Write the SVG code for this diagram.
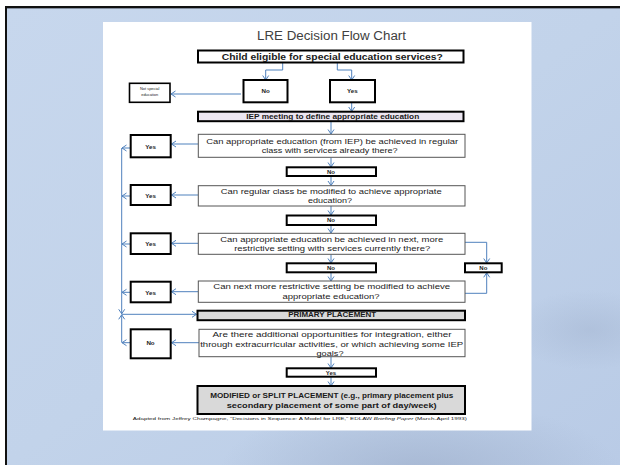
<svg xmlns="http://www.w3.org/2000/svg" width="620" height="465" viewBox="0 0 620 465">
<defs>
<linearGradient id="bg" x1="0" y1="0" x2="1" y2="1">
<stop offset="0" stop-color="#c7d7ed"/>
<stop offset="0.5" stop-color="#c2d3ea"/>
<stop offset="1" stop-color="#b9cbe6"/>
</linearGradient>
<radialGradient id="shade" cx="0.5" cy="0.5" r="0.5">
<stop offset="0" stop-color="#9fb0cc" stop-opacity="0.7"/>
<stop offset="1" stop-color="#9fb0cc" stop-opacity="0"/>
</radialGradient>
<marker id="ah" markerWidth="8" markerHeight="8" refX="6" refY="4" orient="auto" markerUnits="userSpaceOnUse">
<polyline points="1.5,1 6,4 1.5,7" fill="none" stroke="#4f81bd" stroke-width="1"/>
</marker>
<style>
.thick{fill:#fff;stroke:#000;stroke-width:2}
.thin{fill:#fff;stroke:#555;stroke-width:1}
.gray{fill:#d9d9d9;stroke:#000;stroke-width:2}
.lav{fill:#ece6f1;stroke:#000;stroke-width:2}
.t{font-family:"Liberation Sans",Arial,sans-serif;fill:#1a1a1a;text-anchor:middle}
.b{font-weight:bold}
.q{font-size:7.6px}
.c{fill:none;stroke:#4f81bd;stroke-width:1;marker-end:url(#ah)}
.l{fill:none;stroke:#4f81bd;stroke-width:1}
</style>
</defs>
<rect x="0" y="0" width="620" height="465" fill="#fff"/>
<rect x="5" y="6" width="615" height="459" fill="url(#bg)"/>
<ellipse cx="420" cy="470" rx="200" ry="70" fill="url(#shade)"/>
<ellipse cx="590" cy="330" rx="80" ry="40" fill="url(#shade)" opacity="0.6"/>
<rect x="5" y="6" width="615" height="2.2" fill="#111"/>
<rect x="5" y="8.2" width="615" height="0.8" fill="#7d8898"/>
<rect x="5" y="6" width="2" height="459" fill="#111"/>
<rect x="103" y="22" width="428.5" height="408.5" fill="#fff"/>

<text class="t" x="331.5" y="39.5" font-size="12.5" fill="#404040" style="fill:#404040" textLength="149" lengthAdjust="spacingAndGlyphs">LRE Decision Flow Chart</text>

<g id="connectors">
<polyline class="c" points="282.7,63 282.7,70 265.7,70 265.7,80"/>
<polyline class="c" points="337.3,63 337.3,70 351.7,70 351.7,80"/>
<polyline class="c" points="241,94 171,94"/>
<polyline class="c" points="351.7,102 351.7,111.5"/>
<polyline class="c" points="331,121.5 331,134"/>
<polyline class="c" points="198,144 171.5,144"/>
<polyline class="c" points="130,148 122,148"/>
<polyline class="c" points="331,157.5 331,167"/>
<polyline class="c" points="331,176.5 331,185.5"/>
<polyline class="c" points="198,195 171.5,195"/>
<polyline class="c" points="130,196 122,196"/>
<polyline class="c" points="331,206 331,215"/>
<polyline class="c" points="331,225.5 331,233"/>
<polyline class="c" points="198,243.3 171.5,243.3"/>
<polyline class="c" points="130,244 122,244"/>
<polyline class="c" points="331,254.5 331,263"/>
<polyline class="c" points="331,272.5 331,281"/>
<polyline class="c" points="465,242.3 486.7,242.3 486.7,263"/>
<polyline class="c" points="465,293.3 486.7,293.3 486.7,272.8"/>
<polyline class="c" points="198,291.7 171.5,291.7"/>
<polyline class="c" points="130,292.3 122,292.3"/>
<polyline class="c" points="121.7,148 121.7,313.8"/>
<polyline class="c" points="121.7,342.7 121.7,314.8"/>
<polyline class="c" points="121.7,314.3 196.5,314.3"/>
<polyline class="c" points="199,342.7 171.5,342.7"/>
<polyline class="c" points="130,342.7 122,342.7"/>
<polyline class="c" points="331,357 331,368"/>
<polyline class="c" points="331,377 331,386"/>
</g>

<g id="n-child">
<rect class="thick" x="198" y="50.5" width="265.5" height="12"/>
<text class="t b" x="332.3" y="59.6" font-size="8.6" textLength="221" lengthAdjust="spacingAndGlyphs">Child eligible for special education services?</text>
</g>
<g id="n-no0">
<rect class="thick" x="243.5" y="80" width="44" height="22.3"/>
<text class="t b" x="265.7" y="93.2" font-size="6.2">No</text>
</g>
<g id="n-yes0">
<rect class="thick" x="330" y="80" width="45" height="22.3"/>
<text class="t b" x="352.3" y="93.2" font-size="6.2">Yes</text>
</g>
<g id="n-notspecial">
<rect class="thick" x="129.5" y="83.3" width="40.5" height="19" style="stroke-width:1.6"/>
<text class="t" x="149.7" y="90" font-size="3.9">Not special</text>
<text class="t" x="149.7" y="96.3" font-size="3.9">education</text>
</g>
<g id="n-iep">
<rect class="lav" x="198" y="111.7" width="265.5" height="9.5"/>
<text class="t b" x="332.7" y="119.3" font-size="7.8" textLength="173" lengthAdjust="spacingAndGlyphs">IEP meeting to define appropriate education</text>
</g>
<g id="n-q1">
<rect class="thin" x="198.3" y="134.3" width="266.7" height="23"/>
<text class="t q" x="332.2" y="144.4" textLength="252" lengthAdjust="spacingAndGlyphs">Can appropriate education (from IEP) be achieved in regular</text>
<text class="t q" x="329.7" y="153.4" textLength="136" lengthAdjust="spacingAndGlyphs">class with services already there?</text>
</g>
<g id="n-yes1">
<rect class="thick" x="130.7" y="135" width="40" height="22.3"/>
<text class="t b" x="150.5" y="148.8" font-size="6.2">Yes</text>
</g>
<g id="n-no1">
<rect class="thick" x="286.7" y="167.3" width="89.3" height="8.7"/>
<text class="t b" x="331" y="173.8" font-size="6">No</text>
</g>
<g id="n-q2">
<rect class="thin" x="198.3" y="185.7" width="266.7" height="20.3"/>
<text class="t q" x="331.2" y="194.4" textLength="221" lengthAdjust="spacingAndGlyphs">Can regular class be modified to achieve appropriate</text>
<text class="t q" x="330" y="203.4" textLength="44" lengthAdjust="spacingAndGlyphs">education?</text>
</g>
<g id="n-yes2">
<rect class="thick" x="130.7" y="185" width="40" height="20"/>
<text class="t b" x="150.5" y="198.2" font-size="6.2">Yes</text>
</g>
<g id="n-no2">
<rect class="thick" x="286.7" y="215.5" width="89.3" height="9.5"/>
<text class="t b" x="331" y="222.4" font-size="6">No</text>
</g>
<g id="n-q3">
<rect class="thin" x="198.3" y="233.3" width="266.7" height="21"/>
<text class="t q" x="331.7" y="241.7" textLength="223" lengthAdjust="spacingAndGlyphs">Can appropriate education be achieved in next, more</text>
<text class="t q" x="332.2" y="251.4" textLength="196" lengthAdjust="spacingAndGlyphs">restrictive setting with services currently there?</text>
</g>
<g id="n-yes3">
<rect class="thick" x="130.7" y="233.3" width="40" height="20.7"/>
<text class="t b" x="150.5" y="246.2" font-size="6.2">Yes</text>
</g>
<g id="n-no3">
<rect class="thick" x="286.7" y="263.3" width="89.3" height="9"/>
<text class="t b" x="331" y="269.9" font-size="6">No</text>
</g>
<g id="n-noright">
<rect class="thick" x="465" y="263.3" width="36.7" height="9"/>
<text class="t b" x="483.3" y="270.1" font-size="6">No</text>
</g>
<g id="n-q4">
<rect class="thin" x="198.3" y="281" width="266.7" height="21.3"/>
<text class="t q" x="331.7" y="289.4" textLength="237" lengthAdjust="spacingAndGlyphs">Can next more restrictive setting be modified to achieve</text>
<text class="t q" x="331" y="299.4" textLength="97" lengthAdjust="spacingAndGlyphs">appropriate education?</text>
</g>
<g id="n-yes4">
<rect class="thick" x="130.7" y="281.7" width="40" height="20.6"/>
<text class="t b" x="150.5" y="294.5" font-size="6.2">Yes</text>
</g>
<g id="n-primary">
<rect class="gray" x="197.5" y="310.7" width="267.5" height="9.5"/>
<text class="t b" x="332.2" y="317.4" font-size="6.4" textLength="88" lengthAdjust="spacingAndGlyphs">PRIMARY PLACEMENT</text>
</g>
<g id="n-q5">
<rect class="thin" x="199" y="329.3" width="266" height="27.4"/>
<text class="t q" x="332" y="336.7" textLength="239" lengthAdjust="spacingAndGlyphs">Are there additional opportunities for integration, either</text>
<text class="t q" x="331.7" y="346.7" textLength="263" lengthAdjust="spacingAndGlyphs">through extracurricular activities, or which achieving some IEP</text>
<text class="t q" x="330" y="356" textLength="27" lengthAdjust="spacingAndGlyphs">goals?</text>
</g>
<g id="n-no5">
<rect class="thick" x="130.7" y="329.3" width="40" height="29"/>
<text class="t b" x="150.5" y="345" font-size="6.2">No</text>
</g>
<g id="n-yes5">
<rect class="thick" x="286.7" y="368.3" width="89.3" height="8.4"/>
<text class="t b" x="331" y="374.6" font-size="6">Yes</text>
</g>
<g id="n-modified">
<rect class="gray" x="197.5" y="386" width="267.5" height="28"/>
<text class="t b" x="331.7" y="397.6" font-size="7.3" textLength="243" lengthAdjust="spacingAndGlyphs">MODIFIED or SPLIT PLACEMENT (e.g., primary placement plus</text>
<text class="t b" x="331.7" y="408.3" font-size="7.3" textLength="210" lengthAdjust="spacingAndGlyphs">secondary placement of some part of day/week)</text>
</g>
<text class="t" x="299.8" y="419.8" font-size="4.3" textLength="334" lengthAdjust="spacingAndGlyphs">Adapted from Jeffrey Champagne, "Decisions in Sequence: A Model for LRE," EDLAW <tspan font-style="italic">Briefing Paper</tspan> (March-April 1993)</text>
</svg>
